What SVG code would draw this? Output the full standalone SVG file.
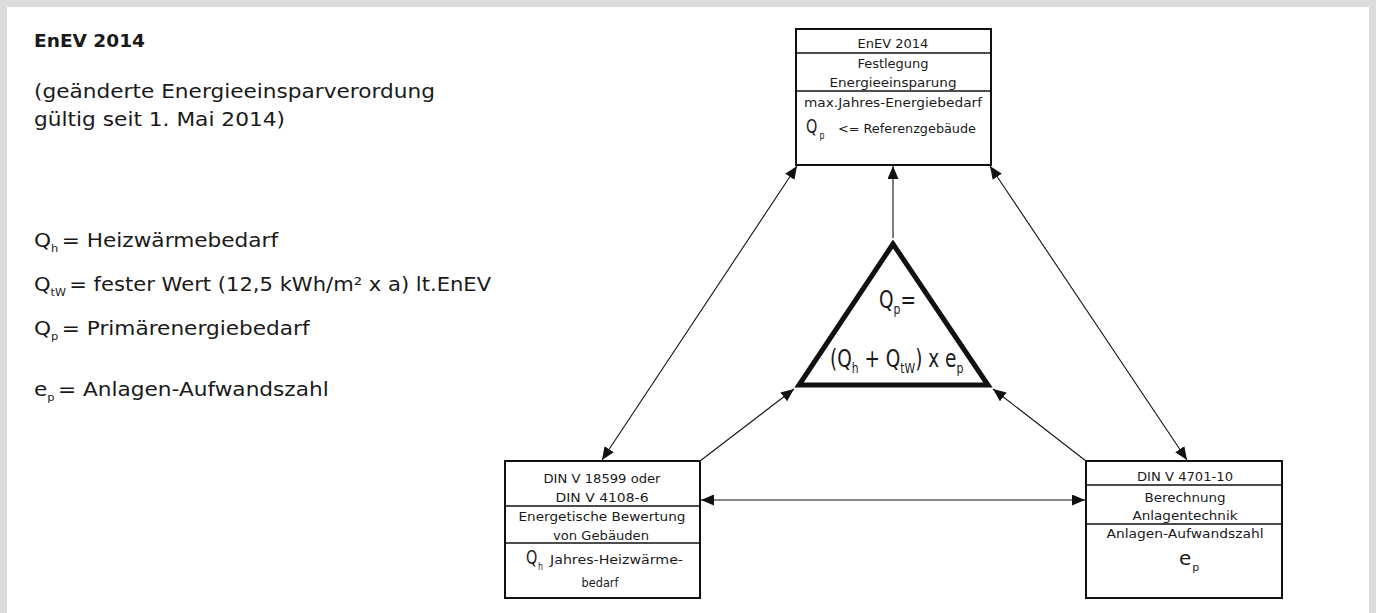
<svg xmlns="http://www.w3.org/2000/svg" width="1376" height="613" viewBox="0 0 1376 613">
<style>
text{font-family:"DejaVu Sans","Liberation Sans",sans-serif;fill:#1a1a1a}
.box{fill:#fff;stroke:#111;stroke-width:2}
.div{stroke:#111;stroke-width:1.5}
.t{font-size:13px;text-anchor:middle}
.big{font-size:20px}
.sub{font-size:11px}
.leg{font-size:19px}
.lsub{font-size:10px}
.f{font-size:24px}
.fs{font-size:14px}
.con{stroke:#111;stroke-width:1.1;fill:none}
</style>
<defs>
<marker id="ah" markerUnits="userSpaceOnUse" markerWidth="13" markerHeight="11" refX="13" refY="5.5" orient="auto-start-reverse" viewBox="0 0 13 11">
<path d="M0,0 L13,5.5 L0,11 z" fill="#111"/>
</marker>
</defs>
<rect x="0" y="0" width="1376" height="613" fill="#dcdcdc"/>
<rect x="7" y="7" width="1362" height="606" fill="#fff"/>

<g id="intro">
<text x="34" y="47" style="font-size:18px;font-weight:bold" textLength="111" lengthAdjust="spacingAndGlyphs">EnEV 2014</text>
<text x="34" y="98" style="font-size:19px" textLength="401" lengthAdjust="spacingAndGlyphs">(geänderte Energieeinsparverordung</text>
<text x="34" y="126" style="font-size:19px" textLength="251" lengthAdjust="spacingAndGlyphs">gültig seit 1. Mai 2014)</text>
</g>

<g id="legend">
<text class="leg" transform="translate(34,247) scale(1.14,1)"><tspan>Q</tspan><tspan class="lsub" dy="5">h</tspan><tspan dx="3" dy="-5">= Heizwärmebedarf</tspan></text>
<text class="leg" transform="translate(34,291) scale(1.11,1)"><tspan>Q</tspan><tspan class="lsub" dy="5">tW</tspan><tspan dx="3" dy="-5">= fester Wert (12,5 kWh/m² x a) lt.EnEV</tspan></text>
<text class="leg" transform="translate(34,335) scale(1.14,1)"><tspan>Q</tspan><tspan class="lsub" dy="5">p</tspan><tspan dx="3" dy="-5">= Primärenergiebedarf</tspan></text>
<text class="leg" transform="translate(34,396) scale(1.14,1)"><tspan>e</tspan><tspan class="lsub" dy="5">p</tspan><tspan dx="3" dy="-5">= Anlagen-Aufwandszahl</tspan></text>
</g>

<g id="connectors">
<line class="con" x1="893" y1="238" x2="893" y2="166" marker-end="url(#ah)"/>
<line class="con" x1="797" y1="166" x2="602" y2="460" marker-start="url(#ah)" marker-end="url(#ah)"/>
<line class="con" x1="990" y1="166" x2="1187" y2="460" marker-start="url(#ah)" marker-end="url(#ah)"/>
<line class="con" x1="700" y1="461" x2="794" y2="389" marker-end="url(#ah)"/>
<line class="con" x1="1086" y1="461" x2="993" y2="389" marker-end="url(#ah)"/>
<line class="con" x1="701" y1="500" x2="1085" y2="500" marker-start="url(#ah)" marker-end="url(#ah)"/>
</g>

<g id="enev">
<rect class="box" x="796" y="29" width="195" height="136"/>
<line class="div" x1="797" y1="53" x2="990" y2="53"/>
<line class="div" x1="797" y1="91" x2="990" y2="91"/>
<text class="t" x="893" y="48">EnEV 2014</text>
<text class="t" x="893" y="68">Festlegung</text>
<text class="t" x="893" y="87" textLength="127" lengthAdjust="spacingAndGlyphs">Energieeinsparung</text>
<text class="t" x="893" y="107" textLength="178" lengthAdjust="spacingAndGlyphs">max.Jahres-Energiebedarf</text>
<text class="big" transform="translate(806,133) scale(0.72,1)"><tspan>Q</tspan><tspan class="sub" dx="3" dy="6">p</tspan></text>
<text x="838" y="133" style="font-size:12px" textLength="138" lengthAdjust="spacingAndGlyphs">&lt;= Referenzgebäude</text>
</g>

<g id="din18599">
<rect class="box" x="505" y="461" width="195" height="137"/>
<line class="div" x1="506" y1="506" x2="699" y2="506"/>
<line class="div" x1="506" y1="543" x2="699" y2="543"/>
<text class="t" x="602" y="483" textLength="117" lengthAdjust="spacingAndGlyphs">DIN V 18599 oder</text>
<text class="t" x="602" y="502" textLength="93" lengthAdjust="spacingAndGlyphs">DIN V 4108-6</text>
<text class="t" x="602" y="521" textLength="167" lengthAdjust="spacingAndGlyphs">Energetische Bewertung</text>
<text class="t" x="601" y="540" textLength="96" lengthAdjust="spacingAndGlyphs">von Gebäuden</text>
<text class="big" transform="translate(526,564) scale(0.72,1)"><tspan>Q</tspan><tspan class="sub" dx="1" dy="6">h</tspan></text>
<text x="550" y="564" style="font-size:13px" textLength="133" lengthAdjust="spacingAndGlyphs">Jahres-Heizwärme-</text>
<text class="t" x="600" y="587" textLength="37" lengthAdjust="spacingAndGlyphs">bedarf</text>
</g>

<g id="din4701">
<rect class="box" x="1086" y="461" width="196" height="137"/>
<line class="div" x1="1087" y1="485" x2="1281" y2="485"/>
<line class="div" x1="1087" y1="524" x2="1281" y2="524"/>
<text class="t" x="1185" y="481" textLength="96" lengthAdjust="spacingAndGlyphs">DIN V 4701-10</text>
<text class="t" x="1185" y="502" textLength="81" lengthAdjust="spacingAndGlyphs">Berechnung</text>
<text class="t" x="1185" y="520" textLength="105" lengthAdjust="spacingAndGlyphs">Anlagentechnik</text>
<text class="t" x="1185" y="538" textLength="157" lengthAdjust="spacingAndGlyphs">Anlagen-Aufwandszahl</text>
<text class="big" x="1179" y="565"><tspan>e</tspan><tspan class="sub" dx="1" dy="6">p</tspan></text>
</g>

<g id="formula">
<polygon points="893,244 799,385 988,385" fill="#fff" stroke="#111" stroke-width="5" stroke-linejoin="miter"/>
<text class="f" transform="translate(879,308) scale(0.77,1)"><tspan>Q</tspan><tspan class="fs" dy="6">p</tspan><tspan dy="-6">=</tspan></text>
<text class="f" transform="translate(830,367) scale(0.77,1)"><tspan>(Q</tspan><tspan class="fs" dy="6">h</tspan><tspan dy="-6"> + Q</tspan><tspan class="fs" dy="6">tW</tspan><tspan dy="-6">) x e</tspan><tspan class="fs" dy="6">p</tspan></text>
</g>
</svg>
